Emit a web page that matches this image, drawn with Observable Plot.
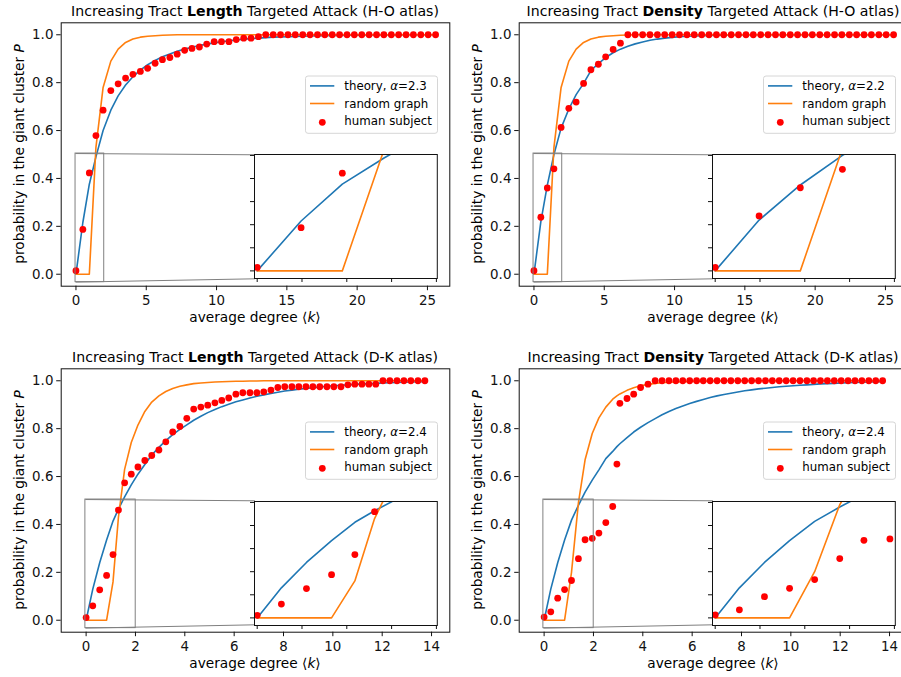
<!DOCTYPE html>
<html>
<head>
<meta charset="utf-8">
<script src="https://cdn.jsdelivr.net/npm/d3@7"></script>
<script src="https://cdn.jsdelivr.net/npm/@observablehq/plot@0.6"></script>
<style>
html,body{margin:0;padding:0;background:#fff;}
#fig{position:relative;width:901px;height:677px;overflow:hidden;background:#fff;}
.panel{position:absolute;width:458px;height:347px;}
.panel > svg{position:absolute;}
</style>
</head>
<body>
<div id="fig"></div>
<script>
// ---------------- data ----------------
const xHO = [0, 0.49, 0.95, 1.42, 1.93, 2.48, 3.0, 3.53, 4.05, 4.58, 5.1, 5.63, 6.15, 6.68, 7.2, 7.73, 8.25, 8.78, 9.3, 9.83, 10.35, 10.88, 11.4, 11.93, 12.45, 12.98, 13.5, 14.03, 14.55, 15.08, 15.6, 16.13, 16.65, 17.18, 17.7, 18.23, 18.75, 19.28, 19.8, 20.33, 20.85, 21.38, 21.9, 22.43, 22.95, 23.48, 24.0, 24.53, 25.05, 25.58];
const humanLenHO = [0.015, 0.187, 0.423, 0.579, 0.685, 0.767, 0.795, 0.819, 0.835, 0.847, 0.86, 0.881, 0.896, 0.905, 0.919, 0.935, 0.943, 0.949, 0.961, 0.971, 0.971, 0.971, 0.98, 0.986, 0.986, 0.992, 1, 1, 1, 1, 1, 1, 1, 1, 1, 1, 1, 1, 1, 1, 1, 1, 1, 1, 1, 1, 1, 1, 1, 1];
const theoryLenHO = [0, 0.216, 0.376, 0.49, 0.60, 0.685, 0.745, 0.79, 0.825, 0.852, 0.875, 0.893, 0.908, 0.92, 0.931, 0.94, 0.948, 0.955, 0.961, 0.966, 0.971, 0.975, 0.978, 0.981, 0.984, 0.986, 0.988, 0.99, 0.991, 0.992, 0.993, 0.994, 0.995, 0.996, 0.996, 0.997, 0.997, 0.998, 0.998, 0.998, 0.999, 0.999, 0.999, 0.999, 0.999, 1, 1, 1, 1, 1];
const randomHO = [0, 0, 0, 0.53, 0.78, 0.89, 0.94, 0.968, 0.982, 0.99, 0.994, 0.996, 0.998, 0.999, 1, 1, 1, 1, 1, 1, 1, 1, 1, 1, 1, 1, 1, 1, 1, 1, 1, 1, 1, 1, 1, 1, 1, 1, 1, 1, 1, 1, 1, 1, 1, 1, 1, 1, 1, 1];
const humanDenHO = [0.015, 0.238, 0.36, 0.44, 0.613, 0.693, 0.719, 0.797, 0.854, 0.877, 0.908, 0.939, 0.965, 1, 1, 1, 1, 1, 1, 1, 1, 1, 1, 1, 1, 1, 1, 1, 1, 1, 1, 1, 1, 1, 1, 1, 1, 1, 1, 1, 1, 1, 1, 1, 1, 1, 1, 1, 1, 1];
const theoryDenHO = [0, 0.22, 0.372, 0.50, 0.61, 0.69, 0.75, 0.797, 0.85, 0.88, 0.905, 0.925, 0.94, 0.952, 0.962, 0.97, 0.977, 0.982, 0.986, 0.989, 0.992, 0.994, 0.995, 0.996, 0.997, 0.998, 0.998, 0.999, 0.999, 0.999, 1, 1, 1, 1, 1, 1, 1, 1, 1, 1, 1, 1, 1, 1, 1, 1, 1, 1, 1, 1];

const xLenDK = [0, 0.27, 0.55, 0.83, 1.09, 1.31, 1.56, 1.83, 2.1, 2.38, 2.66, 2.95, 3.23, 3.51, 3.8, 4.08, 4.36, 4.65, 4.93, 5.22, 5.5, 5.78, 6.07, 6.35, 6.64, 6.92, 7.2, 7.49, 7.77, 8.05, 8.34, 8.62, 8.91, 9.19, 9.47, 9.76, 10.04, 10.33, 10.61, 10.89, 11.18, 11.46, 11.74, 12.03, 12.31, 12.6, 12.88, 13.16, 13.45, 13.73];
const humanLenDK = [0.011, 0.06, 0.127, 0.187, 0.274, 0.46, 0.574, 0.61, 0.64, 0.667, 0.688, 0.711, 0.745, 0.786, 0.809, 0.843, 0.882, 0.89, 0.898, 0.908, 0.918, 0.928, 0.944, 0.95, 0.95, 0.95, 0.954, 0.961, 0.972, 0.975, 0.975, 0.975, 0.975, 0.975, 0.975, 0.975, 0.975, 0.975, 0.983, 0.986, 0.986, 0.986, 0.986, 1, 1, 1, 1, 1, 1, 1];
const theoryLenDK = [0, 0.13, 0.24, 0.335, 0.414, 0.464, 0.515, 0.565, 0.61, 0.65, 0.69, 0.722, 0.75, 0.775, 0.797, 0.816, 0.835, 0.852, 0.867, 0.88, 0.892, 0.902, 0.912, 0.92, 0.928, 0.935, 0.941, 0.947, 0.952, 0.957, 0.961, 0.965, 0.968, 0.971, 0.974, 0.977, 0.979, 0.981, 0.983, 0.985, 0.987, 0.988, 0.989, 0.991, 0.992, 0.993, 0.994, 0.995, 0.996, 0.996];
const randomLenDK = [0, 0, 0, 0, 0.16, 0.43, 0.63, 0.742, 0.815, 0.872, 0.911, 0.937, 0.955, 0.968, 0.977, 0.983, 0.988, 0.991, 0.993, 0.995, 0.996, 0.997, 0.998, 0.998, 0.999, 0.999, 1, 1, 1, 1, 1, 1, 1, 1, 1, 1, 1, 1, 1, 1, 1, 1, 1, 1, 1, 1, 1, 1, 1, 1];

const xDenDK = [0, 0.27, 0.55, 0.83, 1.11, 1.39, 1.66, 1.95, 2.22, 2.5, 2.78, 2.95, 3.07, 3.36, 3.63, 3.91, 4.21, 4.5, 4.78, 5.06, 5.34, 5.62, 5.9, 6.18, 6.45, 6.73, 7.01, 7.29, 7.57, 7.85, 8.13, 8.41, 8.69, 8.97, 9.25, 9.53, 9.81, 10.09, 10.37, 10.65, 10.92, 11.2, 11.48, 11.76, 12.04, 12.32, 12.6, 12.88, 13.16, 13.44, 13.72];
const humanDenDK = [0.013, 0.035, 0.092, 0.128, 0.166, 0.257, 0.336, 0.342, 0.364, 0.408, 0.475, 0.652, 0.906, 0.926, 0.944, 0.972, 0.986, 1, 1, 1, 1, 1, 1, 1, 1, 1, 1, 1, 1, 1, 1, 1, 1, 1, 1, 1, 1, 1, 1, 1, 1, 1, 1, 1, 1, 1, 1, 1, 1, 1, 1];
const theoryDenDK = [0, 0.13, 0.24, 0.335, 0.418, 0.48, 0.535, 0.585, 0.628, 0.675, 0.705, 0.725, 0.737, 0.763, 0.786, 0.806, 0.825, 0.842, 0.858, 0.872, 0.884, 0.895, 0.905, 0.914, 0.922, 0.93, 0.937, 0.943, 0.948, 0.953, 0.958, 0.962, 0.966, 0.969, 0.972, 0.975, 0.977, 0.979, 0.981, 0.983, 0.985, 0.987, 0.988, 0.989, 0.991, 0.992, 0.993, 0.994, 0.995, 0.996, 0.996];
const randomDenDK = [0, 0, 0, 0, 0.2, 0.49, 0.67, 0.78, 0.845, 0.89, 0.923, 0.937, 0.945, 0.96, 0.971, 0.979, 0.985, 0.989, 0.992, 0.994, 0.995, 0.996, 0.997, 0.998, 0.998, 0.999, 0.999, 1, 1, 1, 1, 1, 1, 1, 1, 1, 1, 1, 1, 1, 1, 1, 1, 1, 1, 1, 1, 1, 1, 1, 1];

const attackWords = ["Length", "Density", "Length", "Density"];
const atlasNames = ["H-O atlas", "H-O atlas", "D-K atlas", "D-K atlas"];
const alphas = ["2.3", "2.2", "2.4", "2.4"];
const legendLabels = ["theory, ", "random graph", "human subject"];
const xTicksHO = [0, 5, 10, 15, 20, 25];
const xTicksDK = [0, 2, 4, 6, 8, 10, 12, 14];
const yTicks = [0, 0.2, 0.4, 0.6, 0.8, 1.0];
const xDomainHO = [-1.05, 26.59];
const xDomainDK = [-1.01, 14.74];
const yDomain = [-0.05, 1.05];
const insetXDomain = [-0.03, 2.01];
const insetYDomain = [-0.033, 0.504];
const insetXTicks = [0, 0.5, 1, 1.5, 2];
const insetYTicks = [0, 0.1, 0.2, 0.3, 0.4, 0.5];

// ---------------- style / layout ----------------
const BLUE = "#1f77b4", ORANGE = "#ff7f0e", RED = "#ff0000", GRAY = "#808080";
const FONT = "DejaVu Sans";
const W = 458, H = 347;
const M = {left: 60.7, right: 8.7, top: 22.3, bottom: 61.3};
const insetBox = {left: 0.4987, right: 0.9691, bottom: 0.0281, top: 0.4989};
const legendBox = {x: 305.5, y: 76, w: 132, h: 57.3};

const panels = [
  {pos: [0, 0], x: xHO, human: humanLenHO, theory: theoryLenHO, random: randomHO, xDomain: xDomainHO, xTicks: xTicksHO},
  {pos: [458, 0], x: xHO, human: humanDenHO, theory: theoryDenHO, random: randomHO, xDomain: xDomainHO, xTicks: xTicksHO},
  {pos: [0, 346.4], x: xLenDK, human: humanLenDK, theory: theoryLenDK, random: randomLenDK, xDomain: xDomainDK, xTicks: xTicksDK},
  {pos: [458, 346.4], x: xDenDK, human: humanDenDK, theory: theoryDenDK, random: randomDenDK, xDomain: xDomainDK, xTicks: xTicksDK}
];

function rich(sel, parts) {
  parts.forEach(([t, st]) => {
    const ts = sel.append("tspan").text(t);
    if (st === "b") ts.attr("font-weight", "bold");
    if (st === "i") ts.attr("font-style", "italic");
  });
}

function buildPanel(p, idx) {
  const div = document.createElement("div");
  div.className = "panel";
  div.style.left = p.pos[0] + "px";
  div.style.top = p.pos[1] + "px";
  const rows = p.x.map((x, i) => ({x, human: p.human[i], theory: p.theory[i], random: p.random[i]}));
  const fw = W - M.left - M.right, fh = H - M.top - M.bottom;
  const xd = p.xDomain;
  const fxData = f => xd[0] + f * (xd[1] - xd[0]);
  const fyData = f => yDomain[0] + f * (yDomain[1] - yDomain[0]);
  const rectRow = [{x1: insetXDomain[0], x2: insetXDomain[1], y1: insetYDomain[0], y2: insetYDomain[1]}];
  const links = [
    {x1: insetXDomain[0], y1: insetYDomain[1], x2: fxData(insetBox.left), y2: fyData(insetBox.top)},
    {x1: insetXDomain[0], y1: insetYDomain[0], x2: fxData(insetBox.left), y2: fyData(insetBox.bottom)}
  ];
  const svg = Plot.plot({
    width: W, height: H,
    marginLeft: M.left, marginRight: M.right, marginTop: M.top, marginBottom: M.bottom,
    style: {fontFamily: FONT, fontSize: "13.4px", background: "transparent", color: "#111", overflow: "visible"},
    x: {domain: xd, ticks: p.xTicks, tickSize: 4.5, tickPadding: 4.3, label: null, tickFormat: d => String(d)},
    y: {domain: yDomain, ticks: yTicks, tickSize: 4.5, tickPadding: 3.3, label: null, tickFormat: d => d.toFixed(1)},
    marks: [
      Plot.line(rows, {x: "x", y: "theory", stroke: BLUE, strokeWidth: 1.6}),
      Plot.line(rows, {x: "x", y: "random", stroke: ORANGE, strokeWidth: 1.6}),
      Plot.dot(rows, {x: "x", y: "human", r: 3.4, fill: RED}),
      Plot.rect(rectRow, {x1: "x1", x2: "x2", y1: "y1", y2: "y2", fill: "none", stroke: GRAY, strokeWidth: 1}),
      Plot.link(links, {x1: "x1", y1: "y1", x2: "x2", y2: "y2", stroke: GRAY, strokeWidth: 1}),
      Plot.frame({stroke: "#111", strokeWidth: 1})
    ]
  });
  svg.style.left = "0px"; svg.style.top = "0px";
  const s = d3.select(svg);
  const cx = M.left + fw / 2;
  // title
  const t = s.append("text").attr("x", cx).attr("y", 16.2).attr("text-anchor", "middle")
    .attr("font-family", FONT).attr("font-size", 14.1).attr("fill", "#000");
  rich(t, [["Increasing Tract ", ""], [attackWords[idx], "b"], [" Targeted Attack (" + atlasNames[idx] + ")", ""]]);
  // x label
  const xl = s.append("text").attr("x", cx).attr("y", 322).attr("text-anchor", "middle")
    .attr("font-family", FONT).attr("font-size", 13.7).attr("fill", "#000");
  rich(xl, [["average degree \u27E8", ""], ["k", "i"], ["\u27E9", ""]]);
  // y label
  const yl = s.append("text").attr("transform", `translate(23.5,${M.top + fh / 2}) rotate(-90)`)
    .attr("text-anchor", "middle").attr("font-family", FONT).attr("font-size", 13.7).attr("fill", "#000");
  rich(yl, [["probability in the giant cluster ", ""], ["P", "i"]]);
  // legend
  const g = s.append("g").attr("font-family", FONT).attr("font-size", 11.8).attr("fill", "#000").attr("text-anchor", "start");
  g.append("rect").attr("x", legendBox.x).attr("y", legendBox.y).attr("width", legendBox.w).attr("height", legendBox.h)
    .attr("rx", 2.5).attr("fill", "white").attr("fill-opacity", 0.8).attr("stroke", "#d6d6d6").attr("stroke-width", 1);
  const baselines = [90.2, 107.8, 125.3];
  const colors = [BLUE, ORANGE, RED];
  legendLabels.forEach((lab, i) => {
    const by = baselines[i];
    if (i < 2) {
      g.append("line").attr("x1", 310).attr("x2", 334.3).attr("y1", by - 4.3).attr("y2", by - 4.3)
        .attr("stroke", colors[i]).attr("stroke-width", 1.6);
    } else {
      g.append("circle").attr("cx", 322.3).attr("cy", by - 3).attr("r", 3.4).attr("fill", colors[i]);
    }
    const tx = g.append("text").attr("x", 344.3).attr("y", by).attr("text-anchor", "start");
    if (i === 0) rich(tx, [[lab, ""], ["\u03B1", "i"], ["=" + alphas[idx], ""]]);
    else rich(tx, [[lab, ""]]);
  });
  div.appendChild(svg);

  // inset axes
  const ix0 = M.left + insetBox.left * fw, ix1 = M.left + insetBox.right * fw;
  const iy0 = M.top + (1 - insetBox.top) * fh, iy1 = M.top + (1 - insetBox.bottom) * fh;
  const IM = {l: 8, r: 4, t: 4, b: 8};
  const inset = Plot.plot({
    width: ix1 - ix0 + IM.l + IM.r, height: iy1 - iy0 + IM.t + IM.b,
    marginLeft: IM.l, marginRight: IM.r, marginTop: IM.t, marginBottom: IM.b,
    style: {background: "transparent", color: "#111", fontFamily: FONT},
    x: {domain: insetXDomain, ticks: insetXTicks, tickSize: 4, tickFormat: () => "", label: null},
    y: {domain: insetYDomain, ticks: insetYTicks, tickSize: 4, tickFormat: () => "", label: null},
    marks: [
      Plot.frame({fill: "white", stroke: "none"}),
      Plot.line(rows, {x: "x", y: "theory", stroke: BLUE, strokeWidth: 1.6, clip: true}),
      Plot.line(rows, {x: "x", y: "random", stroke: ORANGE, strokeWidth: 1.6, clip: true}),
      Plot.dot(rows, {x: "x", y: "human", r: 3.4, fill: RED, clip: true}),
      Plot.frame({stroke: "#111", strokeWidth: 1})
    ]
  });
  inset.style.left = (ix0 - IM.l) + "px";
  inset.style.top = (iy0 - IM.t) + "px";
  div.appendChild(inset);
  return div;
}

const fig = document.getElementById("fig");
panels.forEach((p, i) => fig.appendChild(buildPanel(p, i)));
</script>
</body>
</html>
